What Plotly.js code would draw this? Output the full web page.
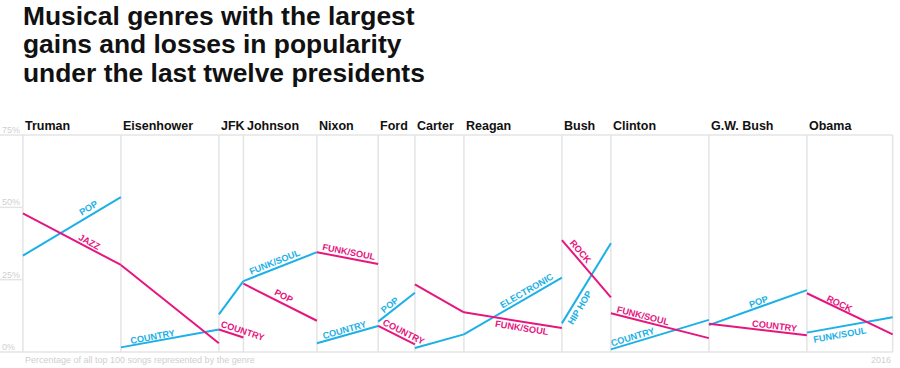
<!DOCTYPE html>
<html><head><meta charset="utf-8">
<script src="https://cdn.plot.ly/plotly-3.0.1.min.js"></script>
<style>html,body{margin:0;padding:0;background:#fff}#chart{width:900px;height:368px}</style>
</head><body><div id="chart"></div>
<script>
// ---------- data ----------
const presidents = ["Truman","Eisenhower","JFK","Johnson","Nixon","Ford","Carter","Reagan","Bush","Clinton","G.W. Bush","Obama"];
const termStart  = [1945,1953,1961,1963,1969,1974,1977,1981,1989,1993,2001,2009];
const termEnd    = [1953,1961,1963,1969,1974,1977,1981,1989,1993,2001,2009,2016];
const gainGenre  = ["POP","COUNTRY","","FUNK/SOUL","COUNTRY","POP","","ELECTRONIC","HIP HOP","COUNTRY","POP","FUNK/SOUL"];
const gainStart  = [33.3,1.6,13.0,24.5,3.0,10.5,1.4,6.1,9.9,0.9,9.3,6.7];
const gainEnd    = [53.5,7.8,24.5,34.5,9.0,20.5,6.1,25.7,37.6,11.1,21.4,12.0];
const lossGenre  = ["JAZZ","","COUNTRY","POP","FUNK/SOUL","COUNTRY","","FUNK/SOUL","ROCK","FUNK/SOUL","COUNTRY","ROCK"];
const lossStart  = [47.9,30.1,7.8,23.6,34.5,9.0,23.4,13.7,38.7,13.4,9.8,20.3];
const lossEnd    = [30.1,3.0,5.0,10.8,30.4,2.6,13.7,8.3,18.9,4.8,5.8,6.1];
const yTicks      = [0,25,50,75];
const yTickLabels = ["0%","25%","50%","75%"];
const titleLines  = ["Musical genres with the largest","gains and losses in popularity","under the last twelve presidents"];
const axisNote    = "Percentage of all top 100 songs represented by the genre";
const lastYearLabel = "2016";

// ---------- styling / placement ----------
const BLUE = "#1cb0e6", PINK = "#e6167f", GRID = "#e4e4e4";
const FONT = "Liberation Sans, Arial, Helvetica, sans-serif";
const W = 900, H = 368;
const M = {l:0, r:0, t:131, b:12};
const plotW = W - M.l - M.r, plotH = H - M.t - M.b;
const xRange = [2016.6 - plotW/12.25, 2016.6];
const yMin = -4/(217/75);
const yRange = [yMin, yMin + plotH/(217/75)];
const pxX = plotW/(xRange[1]-xRange[0]);
const pxY = plotH/(yRange[1]-yRange[0]);
// label placement: [fraction along segment, side, perpendicular offset px]
const gainLabelPos = [[0.71,"above",7],[0.33,"above",5],null,[0.46,"above",6],[0.48,"above",5],[0.42,"above",6],null,[0.67,"above",6],[0.24,"below",7],[0.24,"above",6],[0.52,"above",5],[0.37,"below",8]];
const lossLabelPos = [[0.65,"above",6],null,[0.9,"above",6],[0.5,"above",7],[0.5,"above",6],[0.62,"above",6],null,[0.6,"below",6],[0.28,"above",7],[0.32,"above",5],[0.66,"above",5],[0.36,"above",5]];

function segTrace(s, e, color){
  const x=[], y=[];
  for(let i=0;i<termStart.length;i++){ x.push(termStart[i], termEnd[i], null); y.push(s[i], e[i], null); }
  return {type:"scatter", mode:"lines", x, y, line:{color, width:2}, hoverinfo:"skip", cliponaxis:false};
}
const traces = [segTrace(gainStart, gainEnd, BLUE), segTrace(lossStart, lossEnd, PINK)];

const shapes = [];
const bounds = termStart.concat([termEnd[termEnd.length-1]]);
bounds.forEach(b => shapes.push({type:"line", xref:"x", yref:"y", x0:b, x1:b, y0:0, y1:75, line:{color:GRID, width:1.5}, layer:"below"}));
yTicks.forEach(t => {
  const full = (t===0 || t===75);
  shapes.push({type:"line", xref:"x", yref:"y", x0:xRange[0], x1: full ? termEnd[termEnd.length-1] : termStart[0], y0:t, y1:t, line:{color:GRID, width:1.5}, layer:"below"});
});

const ann = [];
const paperY = ypx => (H - M.b - ypx)/plotH;
titleLines.forEach((t,i) => ann.push({xref:"paper", yref:"paper", x:21/W, y:paperY(16 + i*28.3), xanchor:"left", yanchor:"middle", text:t, showarrow:false, font:{family:FONT, size:26.4, color:"#111", weight:"bold"}}));
presidents.forEach((p,i) => ann.push({xref:"x", yref:"y", x:termStart[i], y:75, yshift:9, xshift:(i===3?1.5:0), xanchor:"left", yanchor:"middle", text:p, showarrow:false, font:{family:FONT, size:12.5, color:"#111", weight:"bold"}}));
yTicks.forEach((t,i) => ann.push({xref:"paper", yref:"y", x:0, y:t, yshift:5, xanchor:"left", yanchor:"middle", text:yTickLabels[i], showarrow:false, font:{family:FONT, size:9, color:"#cfcfcf"}}));
ann.push({xref:"x", yref:"y", x:termStart[0], y:0, yshift:-8, xanchor:"left", yanchor:"middle", text:axisNote, showarrow:false, font:{family:FONT, size:9, color:"#cfcfcf"}});
ann.push({xref:"x", yref:"y", x:termEnd[termEnd.length-1], y:0, yshift:-8, xanchor:"right", yanchor:"middle", text:lastYearLabel, showarrow:false, font:{family:FONT, size:9, color:"#cfcfcf"}});

function addLabels(genres, s, e, pos, color){
  genres.forEach((g,i) => {
    if(!g || !pos[i]) return;
    const [f, side, off] = pos[i];
    const dx = (termEnd[i]-termStart[i])*pxX, dy = -(e[i]-s[i])*pxY;
    const L = Math.hypot(dx, dy);
    let nx = dy/L, ny = -dx/L;            // screen normal pointing "above"
    if(side === "below"){ nx = -nx; ny = -ny; }
    ann.push({xref:"x", yref:"y",
      x: termStart[i] + f*(termEnd[i]-termStart[i]),
      y: s[i] + f*(e[i]-s[i]),
      xshift: nx*off, yshift: -ny*off,
      xanchor:"center", yanchor:"middle", showarrow:false,
      textangle: Math.atan2(dy, dx)*180/Math.PI,
      text:g, font:{family:FONT, size:9.2, color, weight:"bold"}});
  });
}
addLabels(gainGenre, gainStart, gainEnd, gainLabelPos, BLUE);
addLabels(lossGenre, lossStart, lossEnd, lossLabelPos, PINK);

const layout = {
  width:W, height:H, margin:M, paper_bgcolor:"#fff", plot_bgcolor:"#fff",
  showlegend:false, hovermode:false,
  xaxis:{range:xRange, visible:false, fixedrange:true},
  yaxis:{range:yRange, visible:false, fixedrange:true},
  shapes, annotations:ann
};
Plotly.newPlot("chart", traces, layout, {staticPlot:true, displayModeBar:false});
</script>
</body></html>
